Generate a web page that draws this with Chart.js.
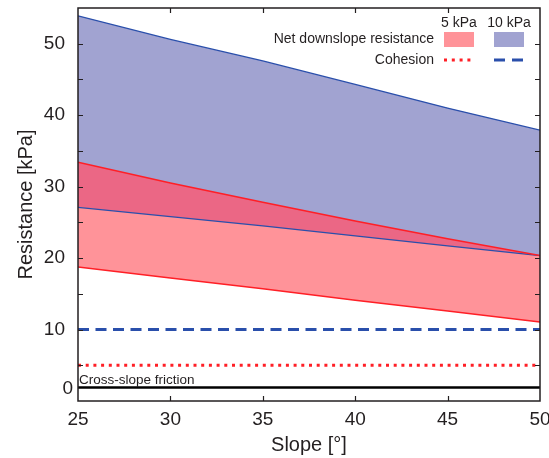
<!DOCTYPE html>
<html>
<head>
<meta charset="utf-8">
<script src="https://cdn.jsdelivr.net/npm/chart.js@4.4.1/dist/chart.umd.min.js"></script>
<style>
  html, body { margin: 0; padding: 0; background: #fff; }
  #c { display: block; }
</style>
</head>
<body>
<canvas id="c" width="549" height="458"></canvas>
<script>
// ---- data ----
const slopes = [25, 30, 35, 40, 45, 50];
const net5Upper = [33.4, 30.5, 27.8, 25.2, 22.7, 20.35];
const net5Lower = [18.75, 17.2, 15.7, 14.1, 12.6, 11.05];
const net10Upper = [53.9, 50.6, 47.6, 44.3, 41.0, 37.9];
const net10Lower = [27.1, 25.8, 24.5, 23.1, 21.7, 20.35];
const cohesion5 = [5, 5, 5, 5, 5, 5];
const cohesion10 = [10, 10, 10, 10, 10, 10];
const crossFriction = [1.9, 1.9, 1.9, 1.9, 1.9, 1.9];
const yTicks = [0, 10, 20, 30, 40, 50];
const xTicks = [25, 30, 35, 40, 45, 50];

const FONT = "'Liberation Sans', Arial, Helvetica, sans-serif";
const INK = '#231f20';
const RED = '#ff1f26', BLUE = '#2a4fab';
const FILL_RED = '#ff9399', FILL_BLUE = '#a1a3d1', FILL_MIX = '#eb6785';

const pts = (ys) => slopes.map((x, i) => ({ x, y: ys[i] }));

// frame, inner ticks, legend and the friction label
const decor = {
  id: 'decor',
  afterDraw(chart) {
    const { ctx, chartArea: a, scales: { x, y } } = chart;
    ctx.save();
    ctx.strokeStyle = INK;
    ctx.lineWidth = 1.5;
    ctx.strokeRect(a.left, a.top, a.right - a.left, a.bottom - a.top);
    ctx.lineWidth = 1.2;
    ctx.beginPath();
    for (let v = 5; v < 55; v += 5) {
      const py = Math.round(y.getPixelForValue(v)) + 0.5;
      ctx.moveTo(a.left, py); ctx.lineTo(a.left + 5, py);
      ctx.moveTo(a.right, py); ctx.lineTo(a.right - 5, py);
    }
    xTicks.slice(1, -1).forEach((v) => {
      const px = Math.round(x.getPixelForValue(v)) + 0.5;
      ctx.moveTo(px, a.bottom); ctx.lineTo(px, a.bottom - 5);
      ctx.moveTo(px, a.top); ctx.lineTo(px, a.top + 5);
    });
    ctx.stroke();

    ctx.fillStyle = INK;
    // zero label sits raised above the corner
    ctx.font = `19px ${FONT}`;
    ctx.textAlign = 'right'; ctx.textBaseline = 'middle';
    ctx.fillText('0', a.left - 5, a.bottom - 12);

    ctx.font = `13.5px ${FONT}`;
    ctx.textAlign = 'left';
    ctx.fillText('Cross-slope friction', a.left + 1, 380);

    // legend
    ctx.font = `14px ${FONT}`;
    ctx.textAlign = 'center';
    ctx.fillText('5 kPa', 459, 23);
    ctx.fillText('10 kPa', 509, 23);
    ctx.textAlign = 'right';
    ctx.fillText('Net downslope resistance', 434, 39);
    ctx.fillText('Cohesion', 434, 60);
    ctx.fillStyle = FILL_RED; ctx.fillRect(444, 32, 30, 15);
    ctx.fillStyle = FILL_BLUE; ctx.fillRect(494, 32, 30, 15);
    ctx.lineWidth = 3;
    ctx.strokeStyle = RED; ctx.setLineDash([3, 4.8]);
    ctx.beginPath(); ctx.moveTo(444, 60); ctx.lineTo(471, 60); ctx.stroke();
    ctx.strokeStyle = BLUE; ctx.setLineDash([11, 7]);
    ctx.beginPath(); ctx.moveTo(494, 60); ctx.lineTo(523, 60); ctx.stroke();
    ctx.restore();
  },
};

const line = (data, color, width, extra = {}) => Object.assign({
  data: pts(data), borderColor: color, borderWidth: width,
  pointRadius: 0, tension: 0, fill: false,
}, extra);

new Chart(document.getElementById('c'), {
  type: 'line',
  data: {
    datasets: [
      // 0: 5 kPa upper edge, fills the overlap down to the 10 kPa lower edge
      line(net5Upper, RED, 1.5, { fill: { target: 3, above: FILL_MIX, below: 'rgba(0,0,0,0)' } }),
      line(crossFriction, '#000', 2.5),
      // 2: 5 kPa lower edge, fills up to the upper edge
      line(net5Lower, RED, 1.5, { fill: { target: 0, above: FILL_RED, below: FILL_RED } }),
      line(net10Lower, BLUE, 1.3),
      // 4: 10 kPa upper edge, fills down to its lower edge
      line(net10Upper, BLUE, 1.3, { fill: { target: 3, above: FILL_BLUE, below: FILL_BLUE } }),
      line(cohesion10, BLUE, 3, { borderDash: [11, 6.5] }),
      line(cohesion5, RED, 3, { borderDash: [3, 4.7] }),
    ],
  },
  options: {
    responsive: false,
    animation: false,
    layout: { padding: { left: 0, right: 9, top: 8, bottom: 0 } },
    plugins: {
      legend: { display: false },
      tooltip: { enabled: false },
      filler: { drawTime: 'beforeDatasetsDraw' },
    },
    scales: {
      x: {
        type: 'linear', min: 25, max: 50,
        afterFit: (s) => { s.height = 57; s.paddingLeft = 0; s.paddingRight = 0; },
        afterBuildTicks: (s) => { s.ticks = xTicks.map((v) => ({ value: v })); },
        grid: { display: false }, border: { display: false },
        ticks: { color: INK, font: { family: FONT, size: 19 }, padding: -1, maxRotation: 0 },
        title: { display: true, text: 'Slope [°]', color: INK, font: { family: FONT, size: 20 }, padding: { top: 0, bottom: 1 } },
      },
      y: {
        min: 0, max: 55,
        afterFit: (s) => { s.width = 78; s.paddingTop = 0; s.paddingBottom = 0; },
        afterBuildTicks: (s) => { s.ticks = yTicks.map((v) => ({ value: v })); },
        grid: { display: false }, border: { display: false },
        ticks: { color: INK, font: { family: FONT, size: 19 }, padding: 5, callback: (v) => (v === 0 ? '' : v) },
        title: { display: true, text: 'Resistance [kPa]', color: INK, font: { family: FONT, size: 20 }, padding: { top: 14, bottom: 0 } },
      },
    },
  },
  plugins: [decor],
});
</script>
</body>
</html>
